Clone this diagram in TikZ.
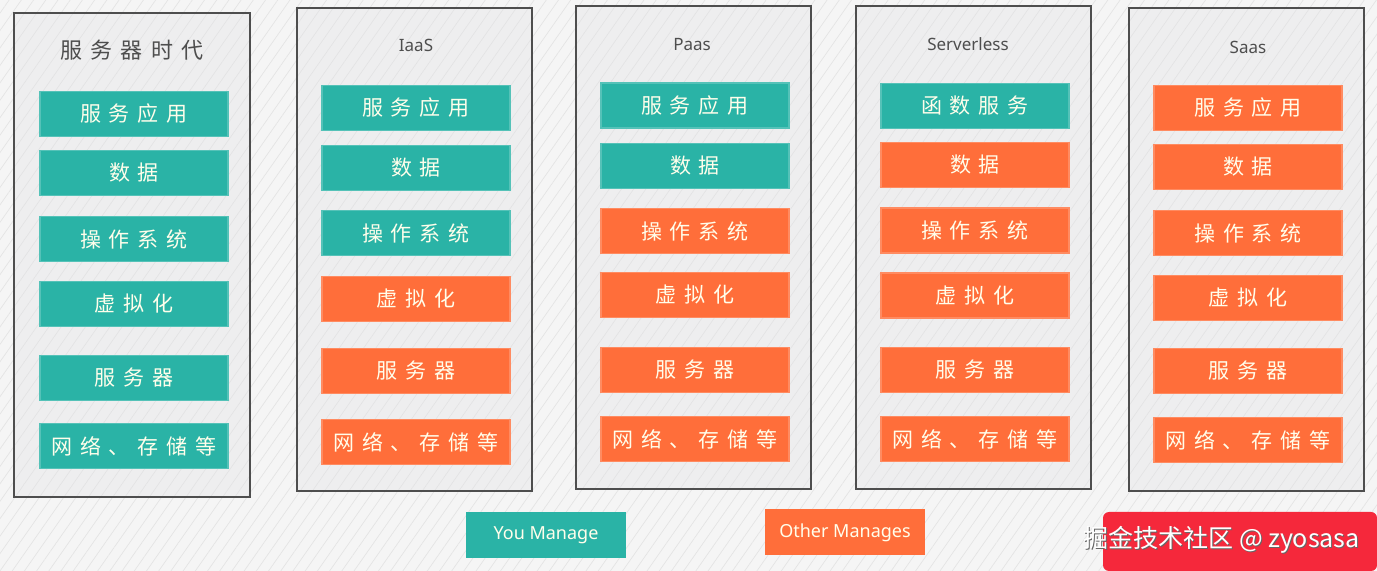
\documentclass[tikz,border=0pt]{standalone}
\usepackage{fontspec}
\setmainfont{Noto Sans CJK SC}
\newfontfamily\cjk{Noto Sans CJK SC}
\newfontfamily\cjksp[LetterSpace=38]{Noto Sans CJK SC}
\newfontfamily\latin{Noto Sans}
\usetikzlibrary{patterns.meta}
\definecolor{teal1}{HTML}{2AB3A6}
\definecolor{orng1}{HTML}{FF6E3A}
\definecolor{bgc}{HTML}{F5F5F5}
\definecolor{colc}{HTML}{EEEEEF}
\definecolor{edgec}{HTML}{4E4E4E}
\definecolor{hatchc}{HTML}{E4E4E4}
\definecolor{hatchd}{HTML}{E2E2E3}
\definecolor{wmred}{HTML}{F5283B}
\tikzset{
  colbox/.style={fill=colc, minimum width=117.5pt, minimum height=241.5pt, inner sep=0pt},
  coledge/.style={draw=edgec, line width=1pt},
  ttl/.style={text=edgec, font=\cjksp\fontsize{11}{13}\selectfont, inner sep=0pt},
  ettl/.style={text=edgec, font=\latin\fontsize{8.5}{10}\selectfont, inner sep=0pt},
  cell/.style={minimum width=94pt, minimum height=22.5pt, inner sep=0pt, text=white!92!yellow, font=\cjksp\fontsize{10.5}{12}\selectfont},
  you/.style={cell, fill=teal1, draw=teal1!80!white, line width=0.6pt},
  oth/.style={cell, fill=orng1, draw=orng1!80!white, line width=0.6pt},
  leg/.style={minimum width=80pt, minimum height=23pt, inner sep=0pt, text=white!92!yellow, font=\latin\fontsize{9}{11}\selectfont},
}
\begin{document}
\begin{tikzpicture}[x=0.5pt, y=-0.5pt]
\useasboundingbox (0,0) rectangle (1377,571);
\fill[bgc] (0,0) rectangle (1377,571);
\fill[pattern={Lines[angle=55, distance=5pt, line width=0.35pt]}, pattern color=hatchc] (0,0) rectangle (1377,571);

% columns
\node[colbox] (c1) at (132,255) {};
\node[colbox] (c2) at (414.5,249.5) {};
\node[colbox] (c3) at (693.5,247.5) {};
\node[colbox] (c4) at (973.5,247.5) {};
\node[colbox] (c5) at (1246.5,249.5) {};
\foreach \c in {c1,c2,c3,c4,c5}{
  \fill[pattern={Lines[angle=55, distance=5pt, line width=0.3pt]}, pattern color=hatchd] (\c.south west) rectangle (\c.north east);
  \draw[coledge] (\c.south west) rectangle (\c.north east);
}

% titles
\node[ttl] (t1) at (132,50) {服务器时代};
\node[ettl] (t2) at (416,45) {IaaS};
\node[ettl] (t3) at (692,45) {Paas};
\node[ettl] (t4) at (968,44) {Serverless};
\node[ettl] (t5) at (1248,47) {Saas};

% column 1
\node[you] (a1) at (134,114) {服务应用};
\node[you] (a2) at (134,173) {数据};
\node[you] (a3) at (134,239) {操作系统};
\node[you] (a4) at (134,304) {虚拟化};
\node[you] (a5) at (134,378) {服务器};
\node[you] (a6) at (134,446) {网络、存储等};

% column 2
\node[you] (b1) at (416,108) {服务应用};
\node[you] (b2) at (416,168) {数据};
\node[you] (b3) at (416,233) {操作系统};
\node[oth] (b4) at (416,299) {虚拟化};
\node[oth] (b5) at (416,371) {服务器};
\node[oth] (b6) at (416,442) {网络、存储等};

% column 3
\node[you] (d1) at (695,105.5) {服务应用};
\node[you] (d2) at (695,166) {数据};
\node[oth] (d3) at (695,231) {操作系统};
\node[oth] (d4) at (695,295) {虚拟化};
\node[oth] (d5) at (695,370) {服务器};
\node[oth] (d6) at (695,439) {网络、存储等};

% column 4
\node[you] (e1) at (975,106) {函数服务};
\node[oth] (e2) at (975,165) {数据};
\node[oth] (e3) at (975,230.5) {操作系统};
\node[oth] (e4) at (975,295.5) {虚拟化};
\node[oth] (e5) at (975,370) {服务器};
\node[oth] (e6) at (975,439) {网络、存储等};

% column 5
\node[oth] (f1) at (1248,108) {服务应用};
\node[oth] (f2) at (1248,167) {数据};
\node[oth] (f3) at (1248,233) {操作系统};
\node[oth] (f4) at (1248,298) {虚拟化};
\node[oth] (f5) at (1248,371) {服务器};
\node[oth] (f6) at (1248,440) {网络、存储等};

% legend
\node[leg, fill=teal1] (l1) at (546,535) {You Manage};
\node[leg, fill=orng1] (l2) at (845,532.5) {Other Manages};

% watermark
\fill[wmred, rounded corners=3pt] (1103,571) -- (1103,512) -- (1377,512) -- (1377,571) -- cycle;
\node[anchor=west, text=black!60, font=\cjk\fontsize{12.5}{14}\selectfont, inner sep=0pt] at (1084,541) {掘金技术社区 @ zyosasa};
\node[anchor=west, text=white, font=\cjk\fontsize{12.5}{14}\selectfont, inner sep=0pt] (wm) at (1083,540) {掘金技术社区 @ zyosasa};
\end{tikzpicture}
\end{document}
